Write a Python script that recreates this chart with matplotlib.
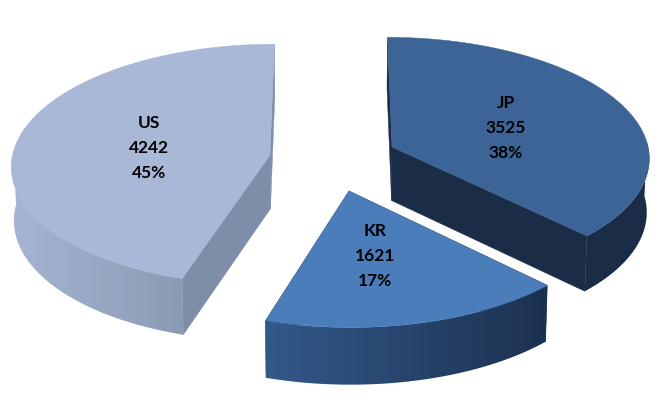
import numpy as np
import matplotlib
matplotlib.use('Agg')
import matplotlib.pyplot as plt
from matplotlib.patches import Polygon
from matplotlib.colors import LinearSegmentedColormap

# Data
countries = ['JP', 'KR', 'US']
values = [3525, 1621, 4242]

# Style per slice: top face, cut face, outer wall left to right on screen
top_colors = ['#3C6496', '#4A7DBA', '#A8B8D6']
cut_colors = ['#1A2C46', '#1C3150', '#7F8EA8']
wall_left = ['#1A2C46', '#33598A', '#A6B5D1']
wall_right = ['#1A2C46', '#1C3150', '#7C8BA5']

# Screen position of each slice's apex and its label
apex_px = [(392, 147), (349, 191), (270, 155)]
label_px = [(506, 128), (375, 256), (149, 148)]

# Projection settings
x0, y0 = 330, 170
A, B = 260, 122
k = 0.08
thick = 54
squeeze = 0.992


def project(X, Y):
    w = 1 + k * Y
    return x0 + A * X / w, y0 - B * Y / w


def lower(sx, sy, Y):
    # same point on the bottom plane of the pie
    return x0 + (sx - x0) * squeeze, sy + thick / (1 + k * Y * 0.6)


def unproject(sx, sy):
    r = (y0 - sy) / B
    Y = r / (1 - k * r)
    X = (sx - x0) * (1 + k * Y) / A
    return X, Y


plt.rcParams['font.family'] = ['Lato', 'DejaVu Sans']
fig = plt.figure(figsize=(6.72, 4.04), dpi=100)
ax = fig.add_axes([0, 0, 1, 1])

fractions = np.array(values) / sum(values)
edges = np.concatenate([[0], np.cumsum(fractions)]) * 2 * np.pi

for i in range(len(countries)):
    X0, Y0 = unproject(*apex_px[i])
    t = np.linspace(edges[i], edges[i + 1], 121)
    Xa = X0 + np.sin(t)
    Ya = Y0 + np.cos(t)
    sx, sy = project(Xa, Ya)
    bx, by = lower(sx, sy, Ya)
    ax_, ay_ = project(X0, Y0)
    abx, aby = lower(ax_, ay_, Y0)

    # cut faces
    for j in [0, -1]:
        pts = [(ax_, ay_), (sx[j], sy[j]), (bx[j], by[j]), (abx, aby)]
        ax.add_patch(Polygon(pts, closed=True, fc=cut_colors[i], ec=cut_colors[i], lw=0.3, zorder=1 + i * 3))

    # outer wall, only the front part of the rim shows
    front = np.cos(t) < 0.05
    rim = list(zip(sx[front], sy[front])) + list(zip(bx[front][::-1], by[front][::-1]))
    band = Polygon(rim, closed=True, fc='none', ec='none', transform=ax.transData)
    ax.add_patch(band)
    cmap = LinearSegmentedColormap.from_list('wall', [wall_left[i], wall_right[i]])
    left, right = min(sx.min(), bx.min()), max(sx.max(), bx.max())
    img = ax.imshow(np.linspace(0, 1, 256)[None, :], cmap=cmap, aspect='auto', extent=(left, right, by.max(), sy.min()),
                    zorder=2 + i * 3, interpolation='bilinear')
    img.set_clip_path(band)

    # top face
    pts = [(ax_, ay_)] + list(zip(sx, sy))
    ax.add_patch(Polygon(pts, closed=True, fc=top_colors[i], ec=top_colors[i], lw=0.3, zorder=3 + i * 3))

    label = '%s\n%d\n%d%%' % (countries[i], values[i], round(fractions[i] * 100))
    ax.text(label_px[i][0], label_px[i][1], label, ha='center', va='center', fontsize=12.5,
            fontweight='bold', color='black', linespacing=1.72, zorder=20)

ax.set_xlim(0, 672)
ax.set_ylim(404, 0)
ax.axis('off')

plt.savefig('out.png', dpi=100, facecolor='white')
